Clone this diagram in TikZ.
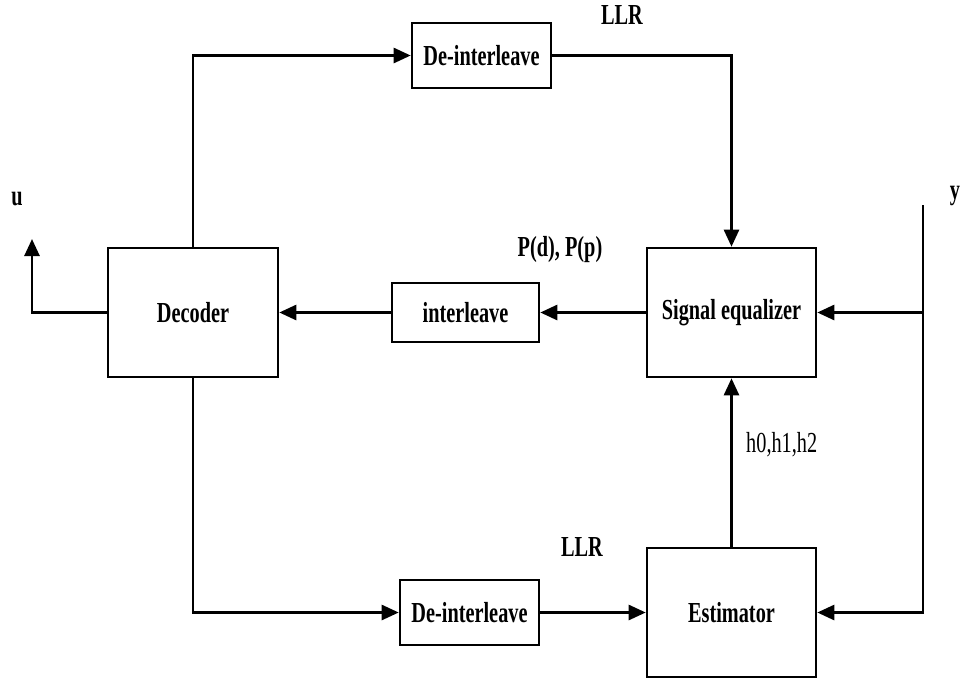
\documentclass[tikz,border=0pt]{standalone}
\usepackage{fontspec}
\setmainfont{Liberation Serif}[FakeStretch=0.7]
\usetikzlibrary{arrows.meta}
\tikzset{
  blk/.style={draw, line width=2.6pt, inner sep=0pt, font=\fontsize{29}{32}\selectfont\bfseries},
  lbl/.style={inner sep=0pt, font=\fontsize{29}{32}\selectfont\bfseries},
  conn/.style={line width=2.6pt, -{Triangle[length=17pt,width=15pt]}},
  wire/.style={line width=2.6pt}
}
\begin{document}
\begin{tikzpicture}[x=1pt,y=-1pt]
\useasboundingbox (0,0) rectangle (967,681);
% blocks
\node[blk, minimum width=170pt, minimum height=129pt] (dec) at (193,312.5) {Decoder};
\node[blk, minimum width=169pt, minimum height=129pt] (se) at (731.5,312.5) {Signal equalizer};
\node[blk, minimum width=169pt, minimum height=129pt] (est) at (731.5,612.5) {Estimator};
\node[blk, minimum width=139pt, minimum height=65pt] (dtop) at (481.5,55.5) {De-interleave};
\node[blk, minimum width=147pt, minimum height=59pt] (il) at (465.5,312.5) {interleave};
\node[blk, minimum width=139pt, minimum height=65pt] (dbot) at (469.5,612.5) {De-interleave};
% labels
\node[lbl] (llrtop) at (622,15) {LLR};
\node[lbl] (llrbot) at (582,547) {LLR};
\node[lbl] (pdp) at (560,250) {P(d), P(p)};
\node[lbl] (ylbl) at (955,196) {y};
\node[lbl] (ulbl) at (17,199) {u};
\node[inner sep=0pt, anchor=west, font=\fontsize{29}{32}\selectfont] (hlbl) at (746,445) {h0,h1,h2};
% coordinates
\coordinate (uend) at (32,239);
\coordinate (ytop) at (923,205);
\coordinate (ybot) at (923,612.5);
\coordinate (ybr) at (923,312.5);
% connectors
\draw[conn] (dec.north) |- (dtop.west);
\draw[conn] (dtop.east) -| (se.north);
\draw[conn] (se.west) -- (il.east);
\draw[conn] (il.west) -- (dec.east);
\draw[conn] (dec.west) -| (uend);
\draw[conn] (ytop) -- (ybot) -- (est.east);
\draw[conn] (ybr) -- (se.east);
\draw[conn] (dec.south) |- (dbot.west);
\draw[conn] (dbot.east) -- (est.west);
\draw[conn] (est.north) -- (se.south);
\end{tikzpicture}
\end{document}
